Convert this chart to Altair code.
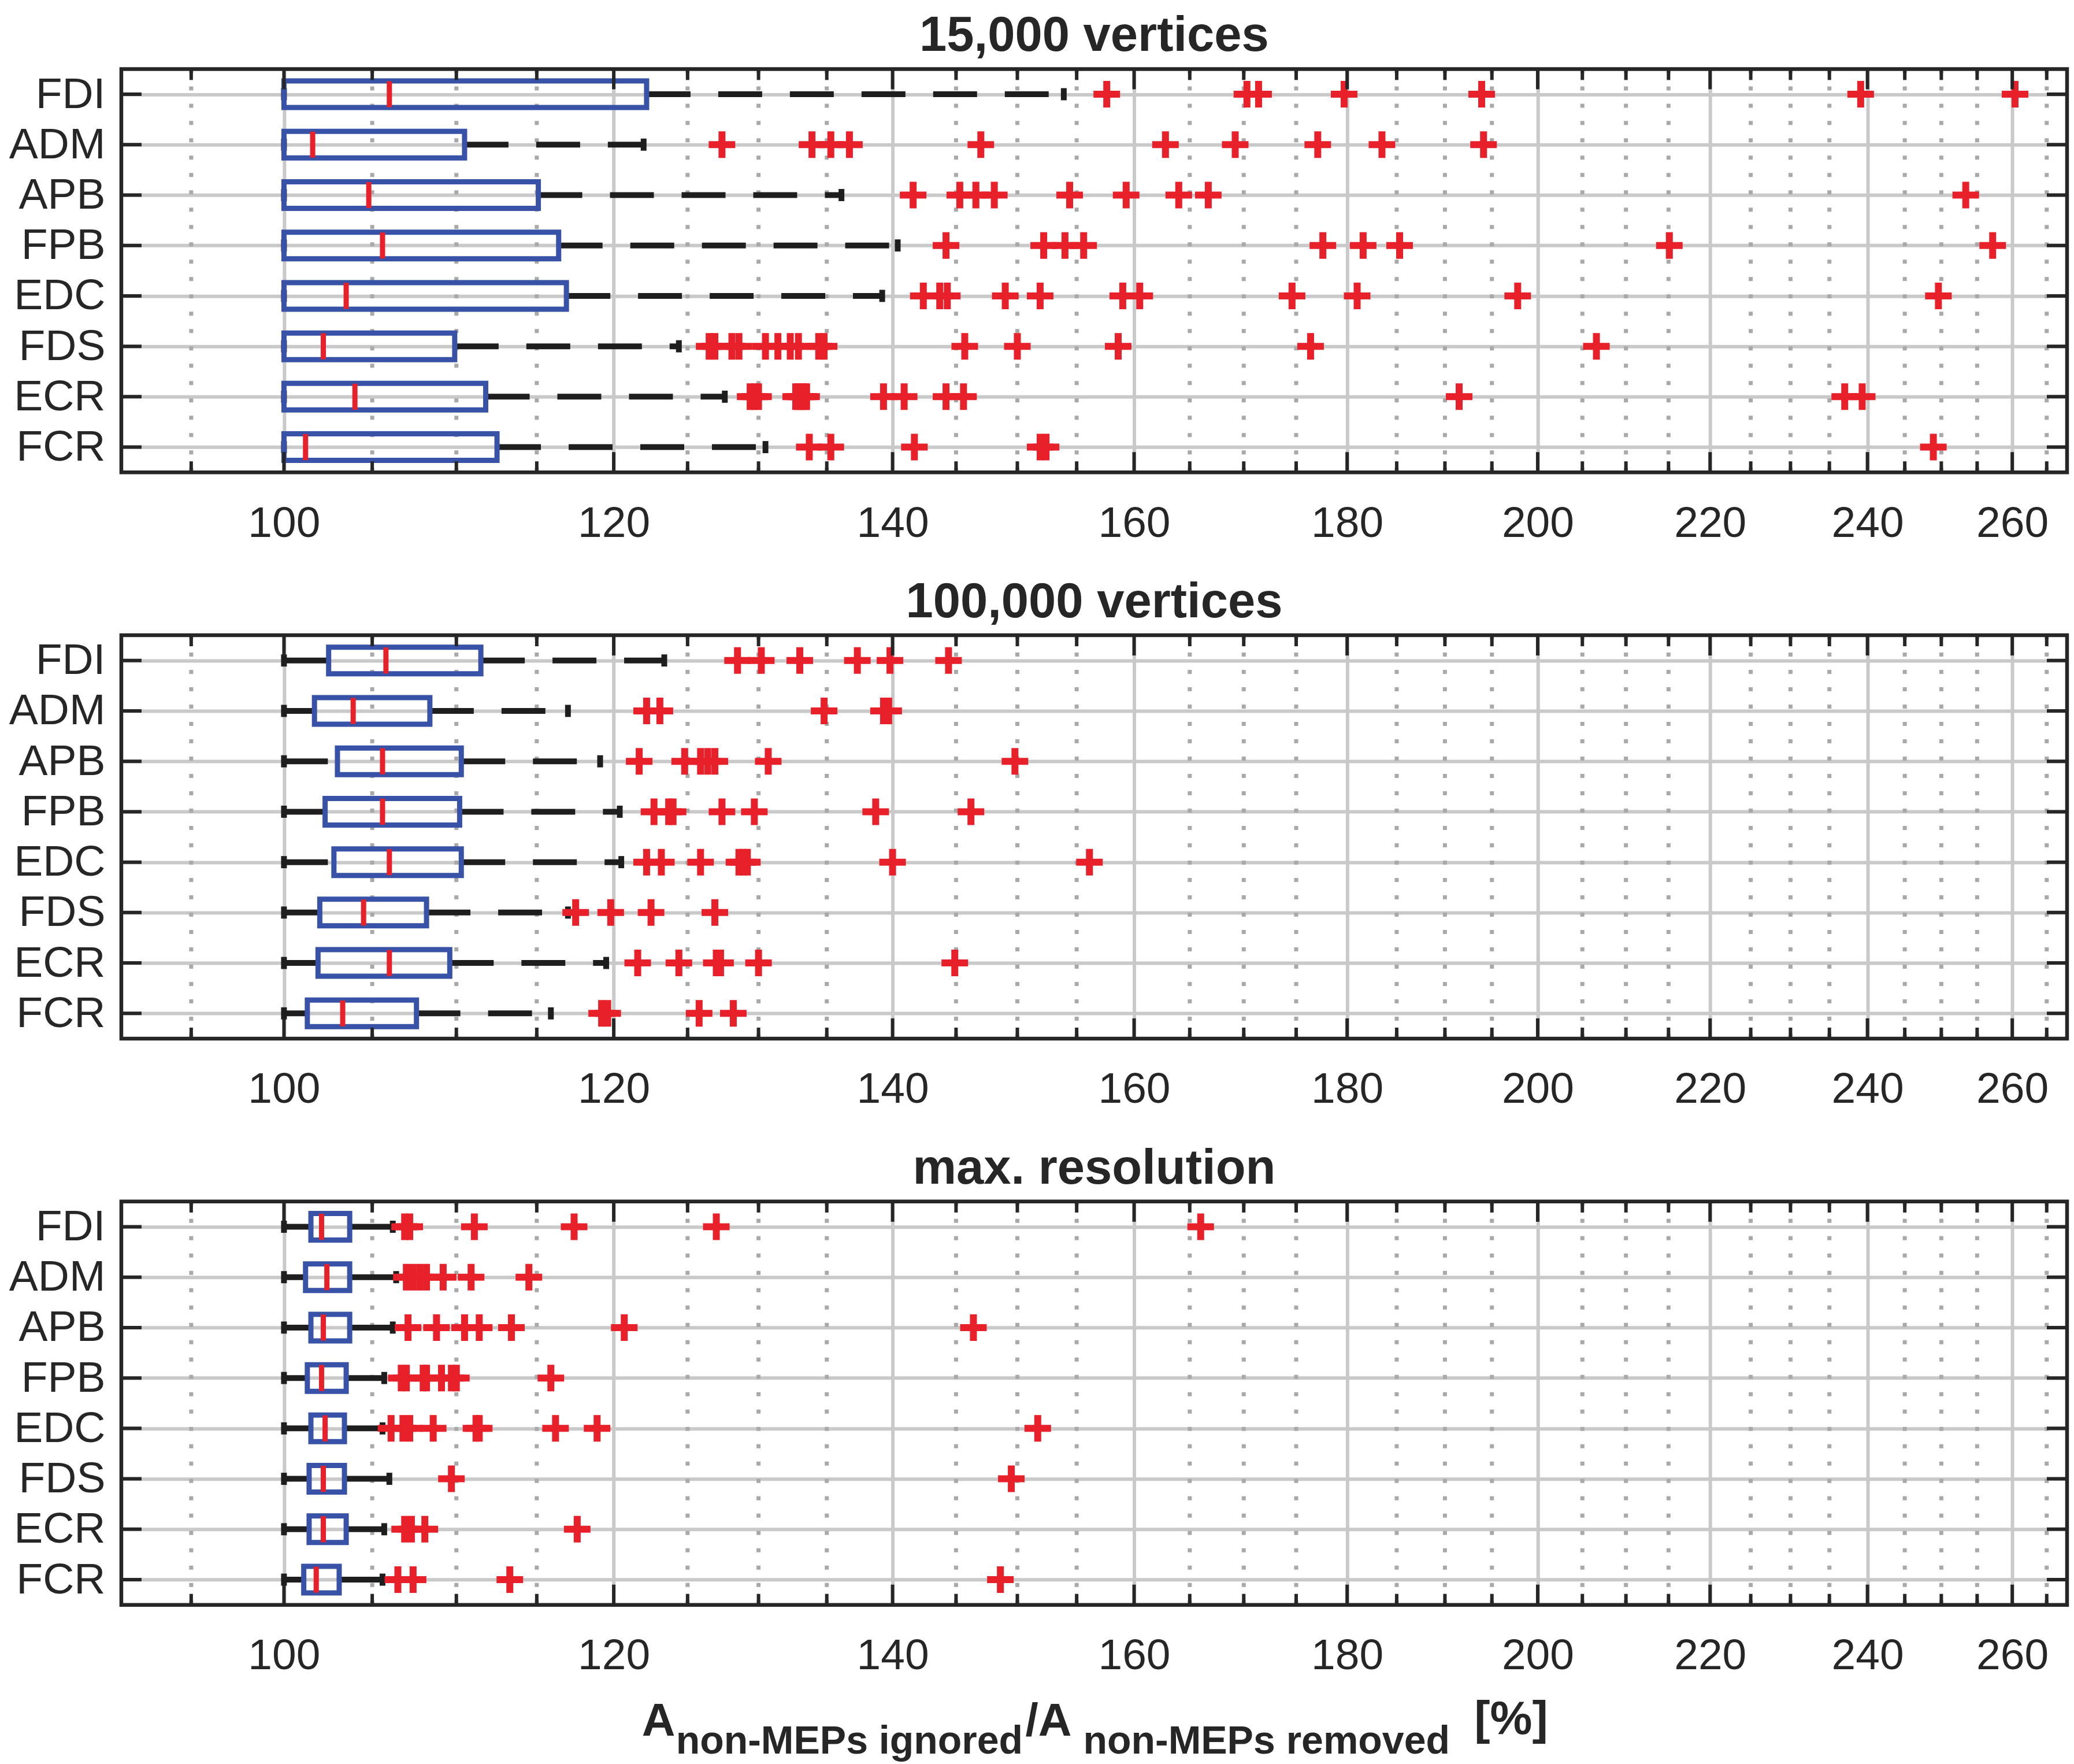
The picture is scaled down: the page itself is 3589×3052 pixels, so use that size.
import altair as alt
import pandas as pd

MUSCLES = ["FDI", "ADM", "APB", "FPB", "EDC", "FDS", "ECR", "FCR"]
X_TICKS = [100, 120, 140, 160, 180, 200, 220, 240, 260]
X_MINOR = [95, 105, 110, 115, 125, 130, 135, 145, 150, 155, 165, 170, 175,
           185, 190, 195, 205, 210, 215, 225, 230, 235, 245, 250, 255, 265]
X_DOMAIN = [91.4, 268]

# ---- 15,000 vertices ----
T1 = "15,000 vertices"
LO1 = [100, 100, 100, 100, 100, 100, 100, 100]
Q1_1 = [100, 100, 100, 100, 100, 100, 100, 100]
MED1 = [106.0, 101.6, 104.8, 105.6, 103.5, 102.2, 104.0, 101.2]
Q3_1 = [122.2, 110.5, 115.1, 116.4, 116.9, 109.9, 111.8, 112.5]
HI1 = [153.9, 122.0, 136.1, 140.4, 139.2, 124.4, 127.6, 130.5]
OUT1 = [
    [157.6, 170.3, 171.4, 179.7, 193.9, 239.1, 260.4],
    [127.4, 133.9, 135.3, 136.7, 147.0, 162.8, 169.2, 177.1, 183.5, 194.1],
    [141.6, 145.3, 146.6, 148.1, 154.4, 159.3, 164.0, 166.7, 253.4],
    [144.2, 152.2, 154.0, 155.6, 177.6, 181.6, 185.3, 215.1, 257.2],
    [142.4, 143.7, 144.3, 149.0, 151.9, 159.0, 160.5, 174.6, 181.0, 197.8, 249.6],
    [126.5, 126.9, 128.1, 128.6, 130.5, 131.4, 132.3, 132.9, 134.4, 134.8,
     145.7, 150.0, 158.6, 176.4, 206.6],
    [129.4, 129.7, 130.0, 132.7, 132.9, 133.1, 133.3, 133.5, 139.3, 140.9,
     144.2, 145.6, 191.5, 237.0, 239.3],
    [133.7, 135.3, 141.7, 151.9, 152.4, 248.9],
]

# ---- 100,000 vertices ----
T2 = "100,000 vertices"
LO2 = [100, 100, 100, 100, 100, 100, 100, 100]
Q1_2 = [102.5, 101.7, 103.0, 102.3, 102.8, 102.0, 101.9, 101.3]
MED2 = [105.8, 103.9, 105.6, 105.6, 106.0, 104.5, 106.0, 103.3]
Q3_2 = [111.5, 108.4, 110.3, 110.2, 110.3, 108.2, 109.6, 107.6]
HI2 = [123.4, 117.0, 119.1, 120.4, 120.5, 117.0, 119.5, 115.9]
OUT2 = [
    [128.5, 130.2, 133.0, 137.3, 139.8, 144.4],
    [122.2, 123.1, 134.8, 139.3, 139.7],
    [121.7, 124.8, 125.9, 126.4, 126.9, 130.7, 149.8],
    [122.7, 123.7, 124.0, 127.4, 129.7, 138.7, 146.2],
    [122.2, 123.2, 125.9, 128.6, 128.9, 129.2, 140.0, 156.1],
    [117.5, 119.8, 122.5, 126.9],
    [121.6, 124.4, 127.0, 127.3, 130.0, 144.9],
    [119.2, 119.6, 125.8, 128.2],
]

# ---- max. resolution ----
T3 = "max. resolution"
LO3 = [100, 100, 100, 100, 100, 100, 100, 100]
Q1_3 = [101.5, 101.2, 101.5, 101.3, 101.5, 101.4, 101.4, 101.1]
MED3 = [102.1, 102.4, 102.2, 102.1, 102.3, 102.2, 102.2, 101.8]
Q3_3 = [103.7, 103.7, 103.7, 103.5, 103.4, 103.4, 103.5, 103.1]
HI3 = [106.2, 106.4, 106.2, 105.7, 105.6, 106.0, 105.7, 105.6]
OUT3 = [
    [106.9, 107.2, 111.1, 117.4, 127.0, 166.0],
    [107.0, 107.4, 107.8, 108.2, 109.2, 110.9, 114.5],
    [107.1, 108.8, 110.5, 111.4, 113.4, 120.7, 146.4],
    [106.7, 107.0, 108.0, 108.2, 109.1, 109.7, 110.0, 115.9],
    [106.1, 106.8, 107.2, 108.6, 111.2, 111.4, 116.2, 118.9, 151.7],
    [109.7, 149.5],
    [106.9, 107.3, 108.1, 117.6],
    [106.5, 107.4, 113.3, 148.6],
]

# ---- styling ----
W, H = 3368, 698
FONT = "Liberation Sans"
TXT = "#262626"
FRAME = "#262626"
GRID = "#c9c9c9"
MINOR = "#a9a9a9"
BLUE = "#3752a6"
RED = "#e8202a"
BLK = "#1e1e1e"
PLUS = "M-1,0L1,0M0,-1L0,1"

xs = alt.Scale(type="log", domain=X_DOMAIN, nice=False)
ys = alt.Scale(type="point", padding=0.5)
AX = alt.Axis(values=X_TICKS, grid=True, gridColor=GRID, gridWidth=6, ticks=False,
              domain=False, labelFontSize=75, labelPadding=52, labelColor=TXT,
              labelFont=FONT, title=None, format="d")
AY = alt.Axis(grid=True, gridColor=GRID, gridWidth=6, ticks=False, domain=False,
              labelFontSize=75, labelPadding=28, labelColor=TXT, labelFont=FONT,
              title=None)


def X(f):
    return alt.X(f, type="quantitative", scale=xs, axis=AX)


def Y():
    return alt.Y("muscle:N", sort=MUSCLES, scale=ys, axis=AY)


maj_df = pd.DataFrame({"t": X_TICKS})
min_df = pd.DataFrame({"t": X_MINOR})
one = pd.DataFrame({"k": [0]})


def label(txt, px, py, fs, align="left"):
    return (
        alt.Chart(one).mark_text(text=txt, font=FONT, fontSize=fs, fontWeight="bold",
                                 color=TXT, align=align, baseline="alphabetic")
        .encode(x=alt.value(px), y=alt.value(py))
    )


def panel(title, lo, q1, med, q3, hi, outs, xlabel=False):
    stats = pd.DataFrame({"muscle": MUSCLES, "lo": lo, "q1": q1, "med": med,
                          "q3": q3, "hi": hi})
    out = pd.DataFrame([{"muscle": m, "v": v} for m, vals in zip(MUSCLES, outs)
                        for v in vals])
    layers = [
        alt.Chart(min_df).mark_rule(color=MINOR, strokeWidth=7, strokeDash=[7, 23])
        .encode(x=X("t")),
        alt.Chart(stats).mark_rule(color=BLK, strokeWidth=10, strokeDash=[76, 48])
        .encode(x=X("q3"), x2="hi", y=Y()),
        alt.Chart(stats).mark_rule(color=BLK, strokeWidth=10, strokeDash=[76, 48])
        .encode(x=X("lo"), x2="q1", y=Y()),
        alt.Chart(stats).mark_tick(color=BLK, thickness=10, size=21, opacity=1)
        .encode(x=X("hi"), y=Y()),
        alt.Chart(stats).mark_tick(color=BLK, thickness=10, size=21, opacity=1)
        .encode(x=X("lo"), y=Y()),
        alt.Chart(stats).mark_bar(size=46, fill="white", fillOpacity=0, stroke=BLUE,
                                  strokeWidth=9)
        .encode(x=X("q1"), x2="q3", y=Y()),
        alt.Chart(stats).mark_tick(color=RED, thickness=9, size=45, opacity=1)
        .encode(x=X("med"), y=Y()),
        alt.Chart(out).mark_point(shape=PLUS, size=2116, stroke=RED, strokeWidth=12,
                                  filled=False, opacity=1, strokeCap="butt")
        .encode(x=X("v"), y=Y()),
        # inward ticks on the frame
        alt.Chart(maj_df).mark_rule(color=FRAME, strokeWidth=6)
        .encode(x=X("t"), y=alt.value(0), y2=alt.value(35)),
        alt.Chart(maj_df).mark_rule(color=FRAME, strokeWidth=6)
        .encode(x=X("t"), y=alt.value(H - 35), y2=alt.value(H)),
        alt.Chart(min_df).mark_rule(color=FRAME, strokeWidth=6)
        .encode(x=X("t"), y=alt.value(0), y2=alt.value(19)),
        alt.Chart(min_df).mark_rule(color=FRAME, strokeWidth=6)
        .encode(x=X("t"), y=alt.value(H - 19), y2=alt.value(H)),
        alt.Chart(stats).mark_rule(color=FRAME, strokeWidth=6)
        .encode(y=Y(), x=alt.value(0), x2=alt.value(35)),
        alt.Chart(stats).mark_rule(color=FRAME, strokeWidth=6)
        .encode(y=Y(), x=alt.value(W - 35), x2=alt.value(W)),
        alt.Chart(one).mark_rect(fillOpacity=0, stroke=FRAME, strokeWidth=6.5)
        .encode(x=alt.value(0), x2=alt.value(W), y=alt.value(0), y2=alt.value(H)),
        # panel title
        label(title, W / 2, -31, 85, align="center"),
    ]
    if xlabel:
        layers += [
            label("A", 901, 924, 80),
            label("non-MEPs ignored", 960, 955, 68),
            label("/A", 1565, 924, 80),
            label("non-MEPs removed", 1665, 955, 68),
            label("[%]", 2342, 921, 82),
        ]
    return alt.layer(*layers).properties(width=W, height=H)


p1 = panel(T1, LO1, Q1_1, MED1, Q3_1, HI1, OUT1)
p2 = panel(T2, LO2, Q1_2, MED2, Q3_2, HI2, OUT2)
p3 = panel(T3, LO3, Q1_3, MED3, Q3_3, HI3, OUT3, xlabel=True)

chart = (
    alt.vconcat(p1, p2, p3, spacing=55)
    .properties(padding={"left": 6, "top": 11, "right": 0, "bottom": 0})
    .configure_view(stroke="transparent")
)

chart.save("out.html", embed_options={"renderer": "svg", "actions": False})
